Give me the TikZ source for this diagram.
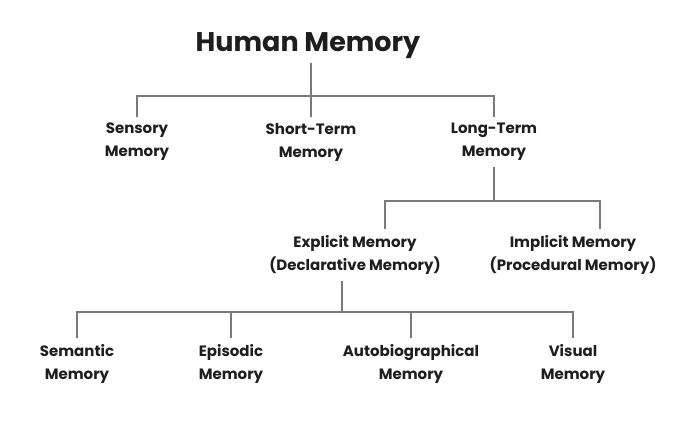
\documentclass[tikz,border=0pt]{standalone}
\usepackage{fontspec}
\setmainfont{Poppins}
\usetikzlibrary{positioning}
\definecolor{mtext}{HTML}{1E1E1E}
\definecolor{mline}{HTML}{7A7A7A}

\begin{document}
\begin{tikzpicture}[x=1pt, y=-1pt,
  mem/.style={align=center, font=\fontsize{15}{23}\selectfont\bfseries, text=mtext,
    inner xsep=2pt, inner ysep=6pt},
  ttl/.style={font=\fontsize{27}{30}\selectfont\bfseries, text=mtext, inner sep=4pt},
  link/.style={draw=mline, line width=1.3pt}
]
\useasboundingbox[fill=white] (0,0) rectangle (680,422);

% title
\node[ttl] (hm) at (308,46) {Human Memory};

% first level
\node[mem] (sen) at (137,142) {Sensory\\Memory};
\node[mem] (stm) at (311,142) {Short-Term\\Memory};
\node[mem] (lt)  at (494,142) {Long-Term\\Memory};

% second level
\node[mem] (exp) at (355,255) {Explicit Memory\\(Declarative Memory)};
\node[mem] (imp) at (573,255) {Implicit Memory\\(Procedural Memory)};

% third level
\node[mem] (sem) at (77,364)  {Semantic\\Memory};
\node[mem] (epi) at (231,364) {Episodic\\Memory};
\node[mem] (aut) at (411,364) {Autobiographical\\Memory};
\node[mem] (vis) at (573,364) {Visual\\Memory};

% connectors
\draw[link] (hm.south -| stm) -- (stm.north);
\draw[link] (sen.north) -- ++(0,-21) -| (lt.north);

\coordinate (b2) at (494,201);
\draw[link] (lt.south) -- (b2);
\draw[link] ([xshift=30pt]exp.north) |- (b2) -| ([xshift=27pt]imp.north);

\coordinate (b3) at (342,312);
\draw[link] ([xshift=-13pt]exp.south) -- (b3);
\draw[link] (sem.north) |- (b3) -| (vis.north);
\draw[link] (epi.north) -- (epi.north |- b3);
\draw[link] (aut.north) -- (aut.north |- b3);
\end{tikzpicture}
\end{document}
